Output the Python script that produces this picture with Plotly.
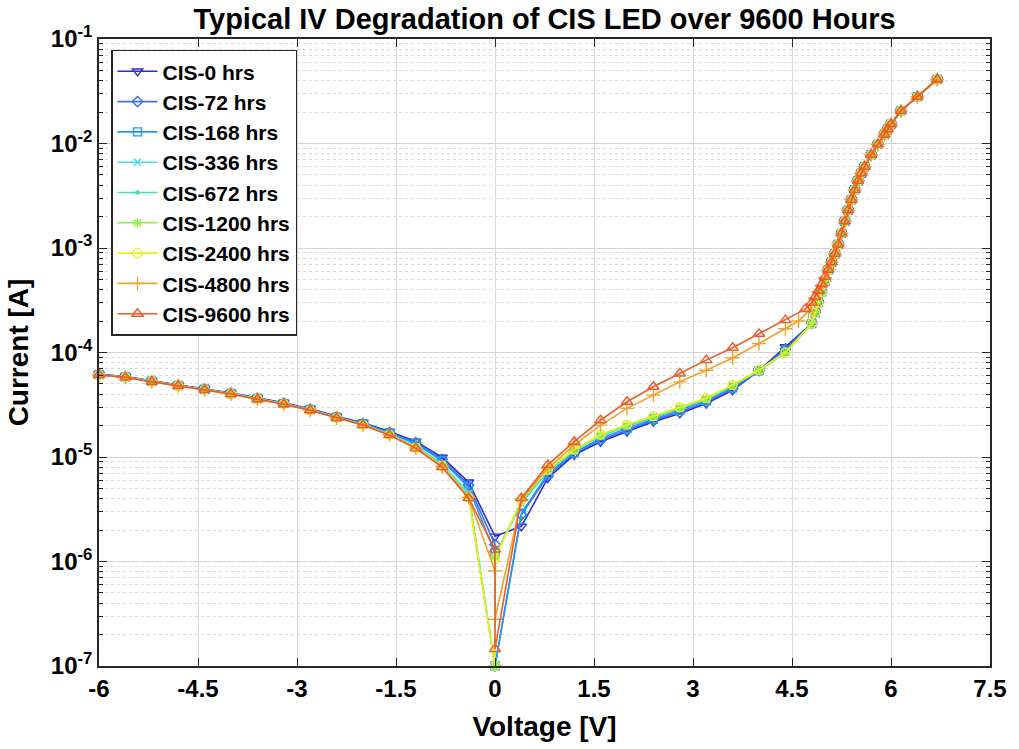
import plotly.graph_objects as go

# ---------------- data ----------------
series_names = ["CIS-0 hrs", "CIS-72 hrs", "CIS-168 hrs", "CIS-336 hrs", "CIS-672 hrs",
                "CIS-1200 hrs", "CIS-2400 hrs", "CIS-4800 hrs", "CIS-9600 hrs"]

# reverse-bias voltages and forward voltages below the knee
v_reverse = [-6.0, -5.6, -5.2, -4.8, -4.4, -4.0, -3.6, -3.2, -2.8, -2.4, -2.0, -1.6, -1.2, -0.8, -0.4]
v_forward = [0.4, 0.8, 1.2, 1.6, 2.0, 2.4, 2.8, 3.2, 3.6, 4.0, 4.4]
# knee voltages (group specific)
v_knee_early = [4.8, 4.85, 4.9, 4.95, 5.0]          # 0 .. 2400 hrs
v_knee_4800 = [4.6, 4.75, 4.8, 4.85, 4.9, 4.95, 5.0]
v_knee_9600 = [4.7, 4.8, 4.85, 4.9, 4.95, 5.0]
# common high-injection part
v_high = [5.05, 5.1, 5.15, 5.2, 5.25, 5.3, 5.35, 5.4, 5.45, 5.5, 5.55, 5.6,
          5.7, 5.8, 5.9, 5.95, 6.0, 6.15, 6.4, 6.7]
i_high = [6.2e-4, 7.3e-4, 8.8e-4, 1.08e-3, 1.38e-3, 1.8e-3, 2.3e-3, 2.9e-3, 3.6e-3, 4.4e-3,
          5.2e-3, 6.0e-3, 7.8e-3, 9.8e-3, 1.22e-2, 1.37e-2, 1.53e-2, 2.05e-2, 2.8e-2, 4.1e-2]

# reverse-branch currents [A]
i_rev_0 = [6.2e-5, 5.9e-5, 5.35e-5, 4.9e-5, 4.5e-5, 4.1e-5, 3.68e-5, 3.3e-5, 2.9e-5, 2.45e-5, 2.13e-5, 1.75e-5, 1.41e-5, 9.9e-6, 5.74e-6]
i_rev_72 = [6.15e-5, 5.85e-5, 5.3e-5, 4.85e-5, 4.46e-5, 4.06e-5, 3.64e-5, 3.27e-5, 2.86e-5, 2.42e-5, 2.1e-5, 1.72e-5, 1.37e-5, 9.5e-6, 5.4e-6]
i_rev_168 = [6.15e-5, 5.85e-5, 5.3e-5, 4.84e-5, 4.45e-5, 4.05e-5, 3.63e-5, 3.26e-5, 2.85e-5, 2.41e-5, 2.08e-5, 1.7e-5, 1.34e-5, 9.2e-6, 5.1e-6]
i_rev_336 = [6.1e-5, 5.8e-5, 5.28e-5, 4.82e-5, 4.42e-5, 4.02e-5, 3.6e-5, 3.23e-5, 2.82e-5, 2.38e-5, 2.05e-5, 1.66e-5, 1.27e-5, 8.6e-6, 4.5e-6]
i_rev_672 = [6.1e-5, 5.8e-5, 5.28e-5, 4.82e-5, 4.42e-5, 4.02e-5, 3.6e-5, 3.23e-5, 2.82e-5, 2.38e-5, 2.04e-5, 1.65e-5, 1.25e-5, 8.4e-6, 4.3e-6]
i_rev_1200 = [6.1e-5, 5.8e-5, 5.27e-5, 4.81e-5, 4.41e-5, 4.01e-5, 3.59e-5, 3.22e-5, 2.81e-5, 2.37e-5, 2.03e-5, 1.64e-5, 1.24e-5, 8.3e-6, 4.2e-6]
i_rev_2400 = [6.1e-5, 5.8e-5, 5.27e-5, 4.81e-5, 4.41e-5, 4.01e-5, 3.59e-5, 3.21e-5, 2.8e-5, 2.37e-5, 2.03e-5, 1.63e-5, 1.23e-5, 8.2e-6, 4.1e-6]
i_rev_4800 = [6.1e-5, 5.8e-5, 5.26e-5, 4.8e-5, 4.4e-5, 4.0e-5, 3.58e-5, 3.2e-5, 2.8e-5, 2.36e-5, 2.02e-5, 1.63e-5, 1.22e-5, 8.1e-6, 4.1e-6]
i_rev_9600 = [6.1e-5, 5.78e-5, 5.25e-5, 4.8e-5, 4.4e-5, 4.0e-5, 3.57e-5, 3.2e-5, 2.8e-5, 2.36e-5, 2.02e-5, 1.62e-5, 1.21e-5, 8.0e-6, 4.04e-6]

# currents at 0 V (two readings for most samples)
i_zero_0 = [1.74e-6]
i_zero_72 = [1.45e-6, 1.0e-7]
i_zero_168 = [1.2e-6, 1.0e-7]
i_zero_336 = [1.0e-7, 1.15e-6]
i_zero_672 = [1.0e-7, 1.12e-6]
i_zero_1200 = [1.0e-7, 1.1e-6]
i_zero_2400 = [1.0e-7, 1.05e-6]
i_zero_4800 = [8.1e-7, 2.8e-7]
i_zero_9600 = [1.3e-6, 1.45e-7]

# forward-branch currents (0.4 .. 4.4 V)
i_fwd_0 = [2.17e-6, 6.27e-6, 1.05e-5, 1.40e-5, 1.75e-5, 2.18e-5, 2.61e-5, 3.25e-5, 4.35e-5, 6.7e-5, 1.13e-4]
i_fwd_72 = [2.8e-6, 6.6e-6, 1.08e-5, 1.45e-5, 1.82e-5, 2.25e-5, 2.7e-5, 3.35e-5, 4.5e-5, 6.7e-5, 1.08e-4]
i_fwd_168 = [2.9e-6, 6.9e-6, 1.1e-5, 1.5e-5, 1.88e-5, 2.3e-5, 2.8e-5, 3.45e-5, 4.6e-5, 6.7e-5, 1.03e-4]
i_fwd_336 = [3.6e-6, 7.3e-6, 1.15e-5, 1.58e-5, 1.98e-5, 2.38e-5, 2.9e-5, 3.55e-5, 4.8e-5, 6.7e-5, 1.0e-4]
i_fwd_672 = [3.7e-6, 7.4e-6, 1.16e-5, 1.6e-5, 2.0e-5, 2.4e-5, 2.93e-5, 3.6e-5, 4.83e-5, 6.75e-5, 9.9e-5]
i_fwd_1200 = [3.8e-6, 7.5e-6, 1.17e-5, 1.62e-5, 2.02e-5, 2.43e-5, 2.96e-5, 3.63e-5, 4.86e-5, 6.76e-5, 9.97e-5]
i_fwd_2400 = [3.9e-6, 7.6e-6, 1.18e-5, 1.64e-5, 2.04e-5, 2.46e-5, 3.0e-5, 3.66e-5, 4.9e-5, 6.8e-5, 1.0e-4]
i_fwd_4800 = [3.9e-6, 7.8e-6, 1.30e-5, 2.02e-5, 2.92e-5, 3.91e-5, 5.24e-5, 6.76e-5, 8.87e-5, 1.22e-4, 1.69e-4]
i_fwd_9600 = [4.04e-6, 8.4e-6, 1.40e-5, 2.25e-5, 3.38e-5, 4.7e-5, 6.3e-5, 8.45e-5, 1.11e-4, 1.51e-4, 2.04e-4]

# knee currents
i_knee_early = [1.89e-4, 2.4e-4, 3.0e-4, 3.8e-4, 4.8e-4]
i_knee_4800 = [2.0e-4, 2.5e-4, 2.9e-4, 3.3e-4, 3.8e-4, 4.4e-4, 5.2e-4]
i_knee_9600 = [2.6e-4, 3.0e-4, 3.4e-4, 3.9e-4, 4.5e-4, 5.3e-4]

x_ticks = [-6, -4.5, -3, -1.5, 0, 1.5, 3, 4.5, 6, 7.5]
x_ticktext = ["-6", "-4.5", "-3", "-1.5", "0", "1.5", "3", "4.5", "6", "7.5"]
y_ticks = [1e-7, 1e-6, 1e-5, 1e-4, 1e-3, 1e-2, 1e-1]
y_ticktext = ["10<sup>-7</sup>", "10<sup>-6</sup>", "10<sup>-5</sup>", "10<sup>-4</sup>",
              "10<sup>-3</sup>", "10<sup>-2</sup>", "10<sup>-1</sup>"]

colors = ["#2b2bd6", "#3f6fe6", "#1f9be8", "#3ee0ee", "#3fe3a2",
          "#8ef04a", "#f2ec1a", "#f2a22a", "#ee5a2a"]
symbols = ["triangle-down-open", "diamond-open", "square-open", "x-thin-open", "circle",
           "asterisk-open", "circle-open", "cross-thin-open", "triangle-up-open"]
sizes = [9, 8, 8, 7, 3, 8, 9, 10, 10]

rev = [i_rev_0, i_rev_72, i_rev_168, i_rev_336, i_rev_672, i_rev_1200, i_rev_2400, i_rev_4800, i_rev_9600]
zer = [i_zero_0, i_zero_72, i_zero_168, i_zero_336, i_zero_672, i_zero_1200, i_zero_2400, i_zero_4800, i_zero_9600]
fwd = [i_fwd_0, i_fwd_72, i_fwd_168, i_fwd_336, i_fwd_672, i_fwd_1200, i_fwd_2400, i_fwd_4800, i_fwd_9600]
knee_v = [v_knee_early] * 7 + [v_knee_4800, v_knee_9600]
knee_i = [i_knee_early] * 7 + [i_knee_4800, i_knee_9600]

fig = go.Figure()
for k, name in enumerate(series_names):
    xs = v_reverse + [0.0] * len(zer[k]) + v_forward + knee_v[k] + v_high
    ys = rev[k] + zer[k] + fwd[k] + knee_i[k] + i_high
    fig.add_trace(go.Scatter(
        x=xs, y=ys, name=name, mode="lines+markers",
        line=dict(color=colors[k], width=1.6),
        marker=dict(symbol=symbols[k], size=sizes[k], color=colors[k],
                    line=dict(color=colors[k], width=1.4)),
        cliponaxis=False,
    ))

axis_col = "#262626"
fig.update_layout(
    width=1019, height=749,
    margin=dict(l=99, r=20, t=39, b=81),
    paper_bgcolor="white", plot_bgcolor="white",
    font=dict(family="Liberation Sans, Arial, sans-serif", size=24, color="black", weight="bold"),
    title=dict(text="Typical IV Degradation of CIS LED over 9600 Hours",
               font=dict(size=29, weight="bold"), x=0.5, xref="paper",
               y=0.975, yref="container", yanchor="middle", xanchor="center"),
    showlegend=True,
    legend=dict(x=0.0135, y=0.983, xanchor="left", yanchor="top",
                bgcolor="white", bordercolor=axis_col, borderwidth=1.5,
                font=dict(size=21, weight="bold"), tracegroupgap=0, itemwidth=40),
)
fig.update_xaxes(
    type="linear", range=[-6, 7.5], tickmode="array", tickvals=x_ticks, ticktext=x_ticktext,
    ticks="inside", ticklen=8, tickcolor=axis_col, tickwidth=1.2,
    showline=True, linecolor=axis_col, linewidth=1.5, mirror="ticks",
    showgrid=True, gridcolor="#dadada", gridwidth=1, zeroline=False,
    title=dict(text="Voltage [V]", font=dict(size=28, weight="bold"), standoff=16),
)
minor_vals = [m * 10.0 ** e for e in range(-7, -1) for m in range(2, 10)]
fig.update_yaxes(
    type="log", range=[-7, -1], tickmode="array", tickvals=y_ticks, ticktext=y_ticktext,
    ticks="inside", ticklen=8, tickcolor=axis_col, tickwidth=1.2,
    showline=True, linecolor=axis_col, linewidth=1.5, mirror="ticks",
    showgrid=True, gridcolor="#d4d4d4", gridwidth=1, zeroline=False,
    minor=dict(tickmode="array", tickvals=minor_vals, ticks="inside", ticklen=4,
               tickcolor=axis_col, showgrid=True, gridcolor="#d9d9d9", griddash="dot", gridwidth=1),
    title=dict(text="Current [A]", font=dict(size=28, weight="bold"), standoff=14),
)

fig.write_html("out.html")
